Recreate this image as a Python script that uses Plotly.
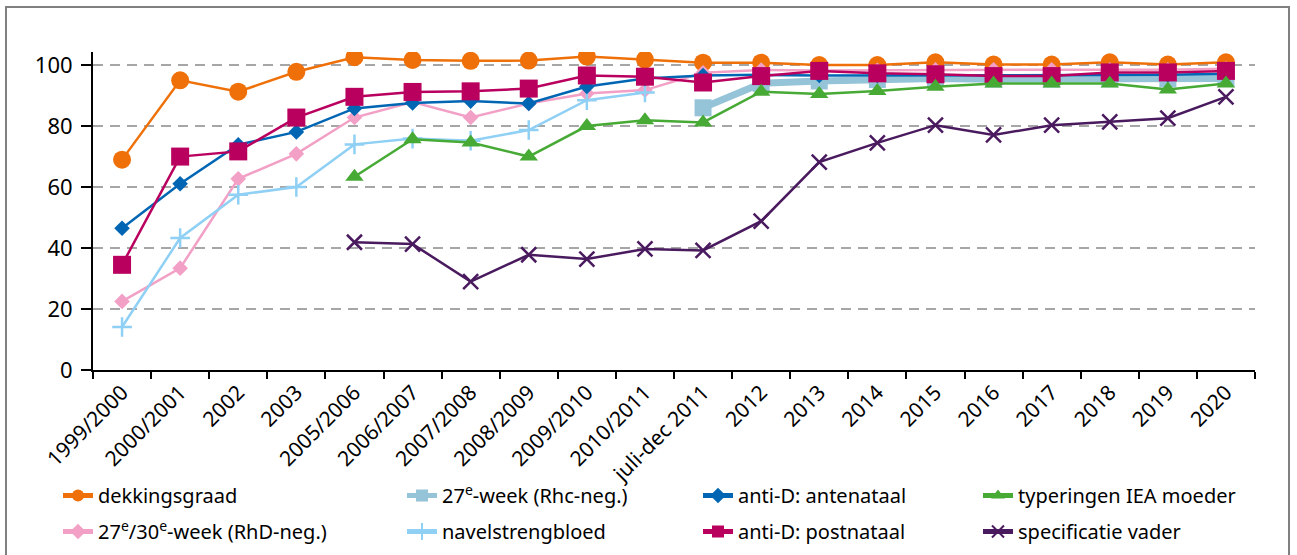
import plotly.graph_objects as go

categories = ["1999/2000", "2000/2001", "2002", "2003", "2005/2006", "2006/2007",
              "2007/2008", "2008/2009", "2009/2010", "2010/2011", "juli-dec 2011",
              "2012", "2013", "2014", "2015", "2016", "2017", "2018", "2019", "2020"]

dekkingsgraad = [69, 95, 91.3, 97.8, 102.6, 101.7, 101.4, 101.5, 102.8, 101.8,
                 100.8, 100.8, 100, 100, 100.9, 100.2, 100.2, 100.9, 100.2, 100.9]
week27_rhc = [None] * 10 + [86, 94, 94.8, 95.3, 95.6, 95.4, 95.4, 95.5, 95.5, 95.6]
week27_30_rhd = [22.5, 33.4, 62.7, 70.9, 82.8, 87.9, 82.8, 87.4, 90.7, 91.8,
                 97.5, 98.4, 98.2, 98.3, 98.5, 98.5, 98.5, 98.5, 98.5, 98.8]
navelstrengbloed = [14.1, 43.3, 57.5, 60, 74, 75.9, 75.2, 78.7, 88.5, 91] + [None] * 10
antenataal = [46.5, 61.1, 73.9, 78.1, 85.8, 87.6, 88.2, 87.4, 93, 95.6,
              96.6, 96.8, 96.6, 96.6, 96.6, 96.6, 96.7, 96.7, 96.8, 97.2]
postnataal = [34.5, 70, 71.7, 82.8, 89.6, 91.2, 91.4, 92.3, 96.6, 96.2,
              94.3, 96.4, 98.1, 97.3, 97, 96.4, 96.4, 97.6, 97.6, 98.1]
typeringen = [None] * 4 + [63.4, 75.7, 74.6, 70, 80, 81.9, 81.2, 91.3, 90.5,
                           91.5, 92.9, 94, 94, 94, 92, 94]
specificatie = [None] * 4 + [41.9, 41.3, 29, 37.8, 36.4, 39.7, 39.2, 48.8, 68.2,
                             74.5, 80.3, 77.1, 80.3, 81.4, 82.6, 89.6]

yticks = [0, 20, 40, 60, 80, 100]

FONT = "Noto Sans"

# (name, data, color, symbol, size, linewidth, legend, rank)
series = [
    ("dekkingsgraad", dekkingsgraad, "#ef7008", "circle", 18, 2.5, "legend", 1),
    ("27<sup>e</sup>-week (Rhc-neg.)", week27_rhc, "#95c3d8", "square", 17, 7, "legend2", 1),
    ("27<sup>e</sup>/30<sup>e</sup>-week (RhD-neg.)", week27_30_rhd, "#f2a0c6", "diamond", 12, 2.5, "legend", 2),
    ("navelstrengbloed", navelstrengbloed, "#8fd0f4", "cross-thin", 14, 2.5, "legend2", 2),
    ("anti-D: antenataal", antenataal, "#0066b3", "diamond", 12, 2.5, "legend3", 1),
    ("anti-D: postnataal", postnataal, "#b9005f", "square", 18, 2.5, "legend3", 2),
    ("typeringen IEA moeder", typeringen, "#46aa35", "triangle-up", 16, 2.5, "legend4", 1),
    ("specificatie vader", specificatie, "#4a1a5f", "x-thin", 15, 2.5, "legend4", 2),
]

fig = go.Figure()
for i, (name, data, color, symbol, size, lw, leg, rank) in enumerate(series):
    marker = dict(symbol=symbol, size=size, color=color)
    if symbol.endswith("-thin"):
        marker["line"] = dict(color=color, width=2.5)
    fig.add_trace(go.Scatter(
        x=categories, y=data, name=name, mode="lines+markers",
        line=dict(color=color, width=lw), marker=marker,
        legend=leg, legendrank=rank, legendgroup=name, connectgaps=False,
    ))

W, H = 1297, 555
L, R, T, B = 93, 42, 52, 185
pw, ph = W - L - R, H - T - B


def px_x(x):  # page pixel -> paper fraction
    return (x - L) / pw


def px_y(y):
    return (H - B - y) / ph


leg_common = dict(orientation="v", font=dict(family=FONT, size=20, color="#000"),
                  bgcolor="rgba(0,0,0,0)", xanchor="left", yanchor="top",
                  tracegroupgap=7, itemsizing="constant")
legends = {}
for key, xs in [("legend", 58), ("legend2", 402), ("legend3", 698), ("legend4", 978)]:
    legends[key] = dict(leg_common, x=px_x(xs), y=px_y(476))

fig.update_layout(
    width=W, height=H,
    margin=dict(l=L, r=R, t=T, b=B, autoexpand=False),
    paper_bgcolor="white", plot_bgcolor="white",
    font=dict(family=FONT, size=20, color="#000"),
    xaxis=dict(type="category", showline=True, linecolor="#000", linewidth=2,
               ticks="outside", tickson="boundaries", ticklen=7, tickwidth=2,
               tickcolor="#000", tickangle=-45, showgrid=False, automargin=False,
               tickfont=dict(family=FONT, size=21, color="#000"),
               range=[-0.5, len(categories) - 0.5]),
    yaxis=dict(range=[0, 104.3], tickvals=yticks, showline=True, linecolor="#000",
               linewidth=2, ticks="outside", ticklen=10, tickwidth=2, tickcolor="#000",
               ticklabelstandoff=4,
               showgrid=True, gridcolor="#a6a6a6", gridwidth=2, griddash="10px,7px",
               zeroline=False, automargin=False,
               tickfont=dict(family=FONT, size=22, color="#000")),
    shapes=[dict(type="rect", xref="paper", yref="paper",
                 x0=px_x(6), x1=px_x(1289), y0=px_y(600), y1=px_y(7),
                 line=dict(color="#808080", width=2), fillcolor="rgba(0,0,0,0)",
                 layer="below")],
    **legends,
)

fig.write_html("out.html",
               config={"displayModeBar": False},
               post_script="document.body.style.margin='0';"
                           "document.body.style.overflow='hidden';")
